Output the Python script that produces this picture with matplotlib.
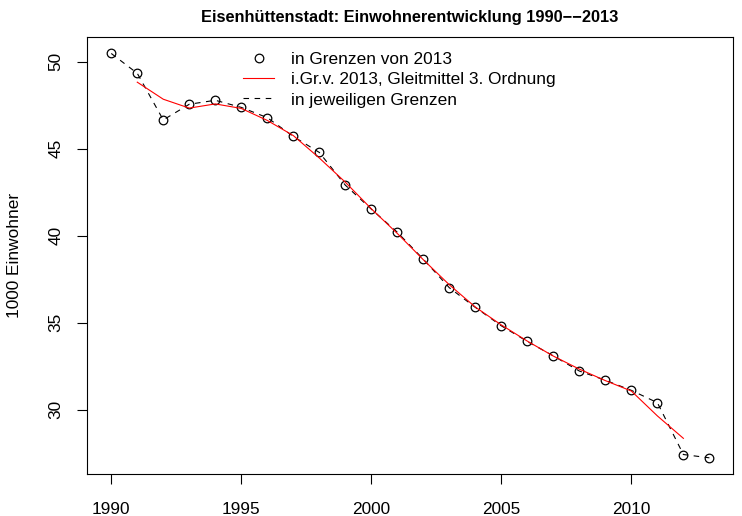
import matplotlib
matplotlib.use("Agg")
import matplotlib.pyplot as plt

# Daten (1000 Einwohner)
jahre = list(range(1990, 2014))
einwohner = [50.48, 49.34, 46.66, 47.56, 47.79, 47.38, 46.79, 45.71, 44.79, 42.91,
             41.53, 40.20, 38.65, 37.01, 35.88, 34.82, 33.92, 33.09, 32.22, 31.69,
             31.11, 30.40, 27.42, 27.23]

# Gleitmittel 3. Ordnung, 1991-2012
jahre_gm = list(range(1991, 2013))
gleitmittel = [48.83, 47.85, 47.34, 47.58, 47.32, 46.63, 45.76, 44.47, 43.08, 41.55,
               40.13, 38.62, 37.18, 35.90, 34.87, 33.94, 33.08, 32.33, 31.67, 31.07,
               29.64, 28.35]

x_ticks = [1990, 1995, 2000, 2005, 2010]
y_ticks = [30, 35, 40, 45, 50]

plt.rcParams['font.family'] = ['Liberation Sans', 'DejaVu Sans']
plt.rcParams['font.size'] = 12.4

fig = plt.figure(figsize=(7.42, 5.16), dpi=100)
ax = fig.add_axes([0.1177, 0.0814, 0.8706, 0.8463])

ax.plot(jahre, einwohner, color='black', lw=0.8, linestyle=(0, (5, 5)),
        label='in jeweiligen Grenzen')
ax.plot(jahre, einwohner, 'o', mfc='none', mec='black', mew=0.9, ms=6.2,
        label='in Grenzen von 2013')
ax.plot(jahre_gm, gleitmittel, color='red', lw=0.8,
        label='i.Gr.v. 2013, Gleitmittel 3. Ordnung')

# R-Achsenbereich: 4% Erweiterung
xr = max(jahre) - min(jahre)
ax.set_xlim(min(jahre) - 0.04 * xr, max(jahre) + 0.04 * xr)
yr = max(einwohner) - min(einwohner)
ax.set_ylim(min(einwohner) - 0.04 * yr, max(einwohner) + 0.04 * yr)

ax.set_xticks(x_ticks)
ax.set_yticks(y_ticks)
ax.set_yticklabels([str(v) for v in y_ticks], rotation=90, va='center')
ax.tick_params(direction='out', length=7.2, width=0.8, pad=10)
ax.tick_params(axis='x', pad=13)
for s in ax.spines.values():
    s.set_linewidth(0.8)

ax.set_ylabel('1000 Einwohner')
ax.yaxis.set_label_coords(-0.101, 0.5)

fig.text(410 / 742, 1 - 17 / 516, 'Eisenhüttenstadt: Einwohnerentwicklung 1990\u2212\u22122013',
         ha='center', va='center', fontweight='bold', fontsize=11.8)

h, l = ax.get_legend_handles_labels()
order = [1, 2, 0]
ax.legend([h[i] for i in order], [l[i] for i in order], frameon=False,
          loc='upper left', bbox_to_anchor=((243 - 87.3) / 646, 1 - (52 - 37.3) / 436.7),
          borderaxespad=0, borderpad=0, handlelength=1.8, handletextpad=1.0,
          labelspacing=0.3)

fig.savefig('out.png', dpi=100)
